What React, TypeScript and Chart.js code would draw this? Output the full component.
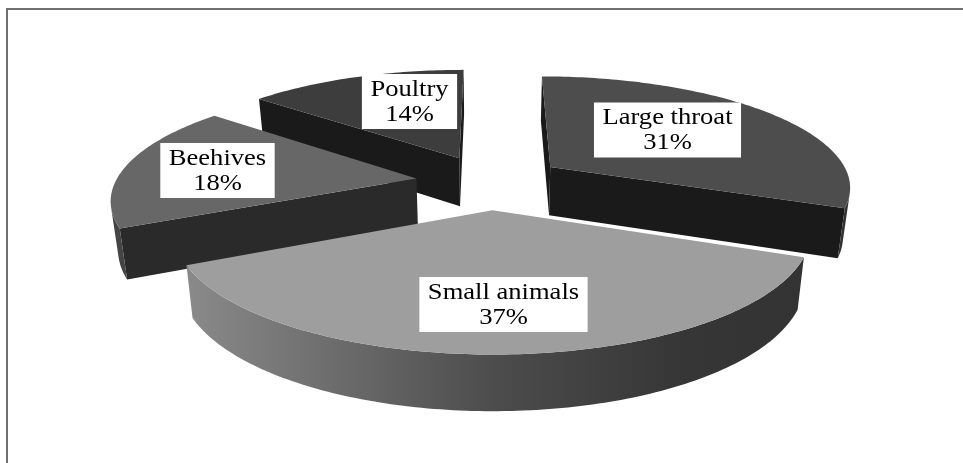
import React, { useEffect, useRef } from "react";
import { Chart, registerables } from "chart.js";

Chart.register(...registerables);

const categories = ["Large throat", "Small animals", "Beehives", "Poultry"];
const shares = [31, 37, 18, 14];

const topColors = ["#4d4d4d", "#9e9e9e", "#676767", "#3d3d3d"];
const cutColors = ["#1a1a1a", "#2a2a2a", "#2a2a2a", "#1a1a1a"];
const rimColors = ["#333333", "#555555", "#444444", "#333333"];
const paintOrder = [3, 0, 2, 1];
const labelCenters = [
  [667.5, 130],
  [503.5, 304.5],
  [217.5, 170.5],
  [409.5, 101.5],
];

// Perspective of the tilted pie: plane scale, foreshortening and wall depth.
const VIEW = { cx: 490, cy: 182, radiusX: 301, radiusY: 110, tilt: 0.164, shrink: 0.98, wall: 49 };
const TEXT_STRETCH = 1.155;

type Pt = [number, number];

function project(u: number, v: number, lower: boolean): Pt {
  const s = 1 / (1 - VIEW.tilt * v);
  let x = VIEW.cx + VIEW.radiusX * u * s;
  let y = VIEW.cy + VIEW.radiusY * v * s;
  if (lower) {
    x = VIEW.cx + (x - VIEW.cx) * VIEW.shrink;
    y += VIEW.wall * (0.39 + 0.61 * s);
  }
  return [x, y];
}

function area(p: Pt[]): number {
  let sum = 0;
  p.forEach((a, i) => {
    const b = p[(i + 1) % p.length];
    sum += a[0] * b[1] - b[0] * a[1];
  });
  return sum / 2;
}

function fillPath(ctx: CanvasRenderingContext2D, p: Pt[], fill: string | CanvasGradient) {
  ctx.beginPath();
  p.forEach((a, i) => (i ? ctx.lineTo(a[0], a[1]) : ctx.moveTo(a[0], a[1])));
  ctx.closePath();
  ctx.fillStyle = fill;
  ctx.fill();
}

function drawSlice(ctx: CanvasRenderingContext2D, chart: Chart, index: number) {
  const arc: any = chart.getDatasetMeta(0).data[index];
  const { startAngle, endAngle, outerRadius } = arc.getProps(["startAngle", "endAngle", "outerRadius"], true);
  const mid = (startAngle + endAngle) / 2;
  const e = arc.options.offset / outerRadius;
  const ox = e * Math.cos(mid);
  const oy = e * Math.sin(mid);
  const rim = (a: number, lower: boolean) => project(ox + Math.cos(a), oy + Math.sin(a), lower);
  const apex = (lower: boolean) => project(ox, oy, lower);

  // Flat walls left by the exploded slice, kept only when they face the viewer.
  const startWall = [apex(false), rim(startAngle, false), rim(startAngle, true), apex(true)];
  const endWall = [rim(endAngle, false), apex(false), apex(true), rim(endAngle, true)];
  [startWall, endWall].forEach((wall) => {
    if (area(wall) < 0) fillPath(ctx, wall, cutColors[index]);
  });

  // Curved outer wall, joined into one polygon per visible run.
  const steps = Math.ceil(((endAngle - startAngle) * 180) / Math.PI);
  const angle = (k: number) => startAngle + ((endAngle - startAngle) * k) / steps;
  let fill: string | CanvasGradient = rimColors[index];
  if (index === 1) {
    const grad = ctx.createLinearGradient(rim(endAngle, false)[0], 0, rim(startAngle, false)[0], 0);
    grad.addColorStop(0, "#8a8a8a");
    grad.addColorStop(0.5, "#4c4c4c");
    grad.addColorStop(0.8, "#363636");
    grad.addColorStop(1, "#333333");
    fill = grad;
  }
  let upper: Pt[] = [];
  let lower: Pt[] = [];
  const flush = () => {
    if (upper.length) fillPath(ctx, [...upper, ...lower.reverse()], fill);
    upper = [];
    lower = [];
  };
  for (let k = 0; k < steps; k++) {
    const a = angle(k);
    const b = angle(k + 1);
    const quad = [rim(a, false), rim(b, false), rim(b, true), rim(a, true)];
    if (area(quad) < 0) {
      if (!upper.length) {
        upper.push(quad[0]);
        lower.push(quad[3]);
      }
      upper.push(quad[1]);
      lower.push(quad[2]);
    } else {
      flush();
    }
  }
  flush();

  // Top face.
  const face: Pt[] = [apex(false)];
  for (let k = 0; k <= steps; k++) face.push(rim(angle(k), false));
  fillPath(ctx, face, arc.options.backgroundColor);
}

const tiltedPie = {
  id: "tiltedPie",
  beforeDraw(chart: Chart) {
    const { ctx, width, height } = chart;
    ctx.save();
    ctx.strokeStyle = "#707070";
    ctx.lineWidth = 2;
    ctx.beginPath();
    ctx.moveTo(7, height);
    ctx.lineTo(7, 9);
    ctx.lineTo(width, 9);
    ctx.stroke();
    ctx.restore();
  },
  beforeDatasetsDraw(chart: Chart) {
    const { ctx } = chart;
    ctx.save();
    paintOrder.forEach((i) => drawSlice(ctx, chart, i));

    ctx.font = "23px 'Liberation Serif'";
    ctx.textAlign = "center";
    ctx.textBaseline = "middle";
    categories.forEach((name, i) => {
      const [x, y] = labelCenters[i];
      const value = `${shares[i]}%`;
      const w = ctx.measureText(name).width * TEXT_STRETCH + 17;
      ctx.fillStyle = "#ffffff";
      ctx.fillRect(x - w / 2, y - 27.5, w, 55);
      ctx.save();
      ctx.translate(x, y);
      ctx.scale(TEXT_STRETCH, 1);
      ctx.fillStyle = "#000000";
      ctx.fillText(name, 0, -12);
      ctx.fillText(value, 0, 13);
      ctx.restore();
    });
    ctx.restore();
    return false;
  },
};

export default function App() {
  const canvasRef = useRef<HTMLCanvasElement>(null);

  useEffect(() => {
    const chart = new Chart(canvasRef.current!, {
      type: "pie",
      plugins: [tiltedPie],
      data: {
        labels: categories,
        datasets: [{ data: shares, backgroundColor: topColors, borderWidth: 0, offset: 51 }],
      },
      options: {
        responsive: false,
        animation: false,
        events: [],
        layout: { padding: 0 },
        plugins: { legend: { display: false }, tooltip: { enabled: false } },
      },
    });
    return () => chart.destroy();
  }, []);

  return (
    <div style={{ position: "fixed", left: 0, top: 0, width: 963, height: 463, background: "#ffffff" }}>
      <canvas ref={canvasRef} width={963} height={463} style={{ display: "block" }} />
    </div>
  );
}
